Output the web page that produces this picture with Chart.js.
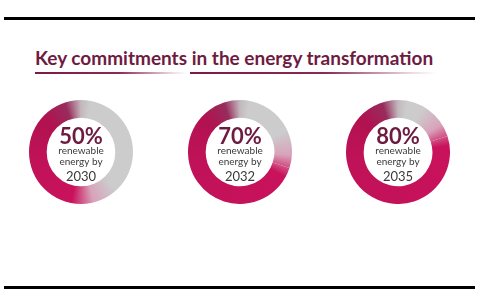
<!DOCTYPE html>
<html><head><meta charset="utf-8">
<script src="https://cdn.jsdelivr.net/npm/chart.js@4/dist/chart.umd.min.js"></script>
<style>
html,body{margin:0;padding:0;background:#fff;}
#wrap{position:relative;width:480px;height:307px;overflow:hidden;font-family:Lato,"Open Sans",sans-serif;}
.rule{position:absolute;left:4px;width:471px;height:3px;background:#000;}
#title{position:absolute;left:35px;top:46px;font-size:19px;font-weight:700;color:#6e1b42;white-space:nowrap;letter-spacing:0px;}
.ul{position:absolute;height:2px;top:72px;background:linear-gradient(to right,#7a1a45 0%,#8a2a55 55%,rgba(190,130,160,0.3) 90%,rgba(255,255,255,0) 100%);}
canvas{position:absolute;}
</style></head>
<body><div id="wrap">
<div class="rule" style="top:17px"></div>
<div id="title">Key commitments in the energy transformation</div>
<div class="ul" style="left:35px;width:152px"></div>
<div class="ul" style="left:190px;width:246px"></div>
<canvas id="c0" width="104" height="104" style="left:29px;top:100px"></canvas>
<canvas id="c1" width="104" height="104" style="left:188px;top:100px"></canvas>
<canvas id="c2" width="104" height="104" style="left:346px;top:100px"></canvas>
<div class="rule" style="top:286px"></div>
</div>
<script>
const shares = [50, 70, 80];
const years = ["2030", "2032", "2035"];
const labelLine1 = "renewable";
const labelLine2 = "energy by";
const segmentLabels = ["Other", "Renewable"];

function ringGradient(context, share) {
  const chart = context.chart;
  const area = chart.chartArea;
  if (!area) return "#ccc";
  const cx = (area.left + area.right) / 2, cy = (area.top + area.bottom) / 2;
  const g = 1 - share / 100;
  const grad = chart.ctx.createConicGradient(-Math.PI / 2, cx, cy);
  const cl = v => Math.min(1, Math.max(0, v));
  grad.addColorStop(0, "#c2b8bd");
  grad.addColorStop(0.03, "#cccccc");
  grad.addColorStop(cl(g - 0.12), "#cccccc");
  grad.addColorStop(cl(g - 0.04), "#d8a3ba");
  grad.addColorStop(cl(g + 0.03), "#c9125b");
  grad.addColorStop(0.72, "#c01258");
  grad.addColorStop(0.87, "#b11250");
  grad.addColorStop(0.95, "#982c5c");
  grad.addColorStop(1, "#c2b8bd");
  return grad;
}

const centerText = {
  id: "centerText",
  afterDraw(chart, args, opts) {
    const {ctx, chartArea: a} = chart;
    const cx = (a.left + a.right) / 2, cy = (a.top + a.bottom) / 2;
    ctx.save();
    ctx.textAlign = "center";
    ctx.textBaseline = "alphabetic";
    ctx.fillStyle = "#6e1b42";
    ctx.font = "700 22px Lato, 'Open Sans', sans-serif";
    ctx.fillText(opts.pct + "%", cx, cy - 8.5);
    ctx.fillStyle = "#3a3a3a";
    ctx.font = "400 10px Lato, 'Open Sans', sans-serif";
    ctx.fillText(labelLine1, cx, cy + 1.5);
    ctx.fillText(labelLine2, cx, cy + 13);
    ctx.font = "400 13px Lato, 'Open Sans', sans-serif";
    ctx.fillText(opts.year, cx, cy + 29);
    ctx.restore();
  }
};

shares.forEach((s, i) => {
  new Chart(document.getElementById("c" + i), {
    type: "doughnut",
    data: {
      labels: segmentLabels,
      datasets: [{
        data: [100 - s, s],
        backgroundColor: ctx => ringGradient(ctx, s),
        borderWidth: 0
      }]
    },
    options: {
      responsive: false,
      animation: false,
      cutout: "66%",
      rotation: 0,
      layout: {padding: 0},
      plugins: {
        legend: {display: false},
        tooltip: {enabled: false},
        centerText: {pct: s, year: years[i]}
      }
    },
    plugins: [centerText]
  });
});
</script>
</body></html>
